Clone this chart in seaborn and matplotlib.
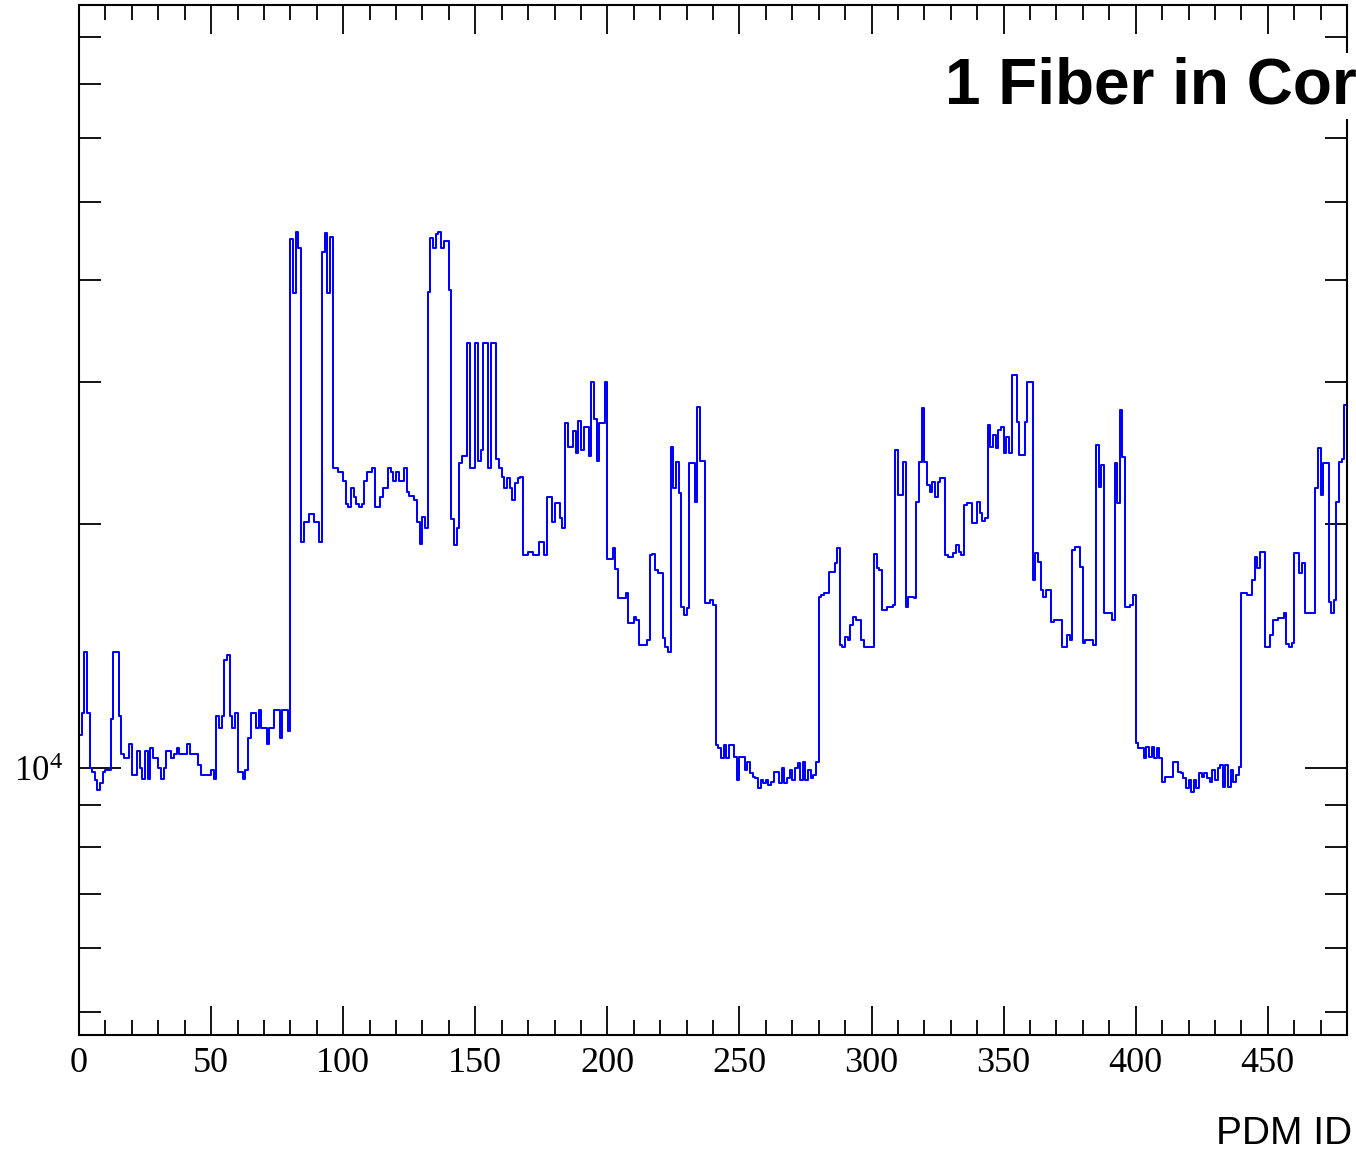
import numpy as np
import pandas as pd
import matplotlib
matplotlib.use("Agg")
import matplotlib.pyplot as plt
import seaborn as sns
from matplotlib.ticker import LogLocator, NullFormatter, MultipleLocator

# ---- data: counts per PDM ID bin (0..479) ----
counts_000_039 = [11000, 11700, 13900, 11700, 10000, 9900, 9670, 9400, 9580, 9890,
                  9940, 9940, 11500, 13900, 13900, 11600, 10400, 10300, 10300, 10700,
                  9800, 9800, 10500, 10000, 9700, 10500, 9700, 10600, 10300, 10300,
                  10000, 9700, 10000, 10500, 10500, 10300, 10400, 10600, 10400, 10400]
counts_040_079 = [10400, 10700, 10400, 10400, 10400, 10100, 9800, 9800, 9800, 9800,
                  9950, 9700, 11600, 11200, 11600, 13600, 13800, 11600, 11200, 11700,
                  9900, 9900, 9700, 9950, 10900, 11700, 11700, 11200, 11800, 11200,
                  11200, 10700, 11200, 11200, 11800, 11800, 10900, 11800, 11800, 11100]
counts_080_119 = [45000, 38600, 45900, 43800, 19000, 20100, 20100, 20600, 20600, 20100,
                  20100, 19000, 43400, 45800, 38600, 45300, 23500, 23500, 23200, 23200,
                  22600, 21200, 21000, 22200, 21600, 21200, 21000, 21200, 22600, 23200,
                  23200, 23500, 21000, 21000, 21600, 22200, 22200, 23500, 23200, 22600]
counts_120_159 = [23200, 22600, 22600, 23500, 21900, 21700, 21700, 21400, 20100, 18900,
                  20400, 19800, 38700, 45100, 43800, 45700, 45900, 43800, 44800, 44800,
                  38900, 20300, 18850, 19800, 23800, 24300, 24300, 33500, 23500, 23500,
                  33500, 23950, 24700, 33500, 33500, 23500, 33500, 33500, 24100, 23500]
counts_160_199 = [22900, 22200, 22800, 22200, 21400, 22500, 22800, 22900, 18300, 18300,
                  18500, 18500, 18300, 18300, 19000, 19000, 18300, 21600, 21600, 20100,
                  21250, 21250, 20350, 19800, 26700, 24900, 24900, 26100, 24500, 26800,
                  24700, 26400, 26400, 24300, 30000, 27000, 23950, 26700, 26700, 30000]
counts_200_239 = [18100, 18100, 18700, 17600, 16200, 16200, 16200, 16440, 15100, 15100,
                  15350, 15230, 14190, 14190, 14190, 14380, 18300, 18400, 17550, 17400,
                  17400, 14470, 14100, 13900, 24900, 22200, 23850, 21850, 15800, 15450,
                  15760, 23800, 23800, 21300, 27900, 23950, 23950, 15990, 15990, 16120]
counts_240_279 = [15900, 10670, 10590, 10290, 10670, 10290, 10670, 10670, 10320, 9670,
                  10320, 10320, 9940, 10170, 9860, 9750, 9720, 9450, 9670, 9580,
                  9670, 9530, 9610, 9890, 9890, 9580, 10000, 9580, 9720, 9940,
                  9670, 10000, 10140, 9670, 10170, 9670, 9940, 9720, 9800, 10170]
counts_280_319 = [16260, 16350, 16440, 16440, 17460, 17460, 17900, 18700, 14190, 14100,
                  14500, 14380, 15010, 15350, 15230, 15230, 14380, 14100, 14100, 14100,
                  14100, 18400, 17660, 17550, 15670, 15670, 15800, 15800, 15900, 24700,
                  21710, 21710, 23850, 15800, 16260, 16260, 16220, 21300, 23850, 27800]
counts_320_359 = [23850, 22350, 21900, 22560, 21620, 22560, 22780, 22780, 18330, 18240,
                  18240, 18420, 18840, 18470, 18330, 21120, 21240, 21240, 20090, 20090,
                  21300, 20640, 20200, 20350, 26520, 24900, 25770, 24840, 26140, 26400,
                  24480, 25630, 24480, 30560, 30560, 26750, 24350, 24350, 26750, 29960]
counts_360_399 = [29960, 17070, 18420, 17960, 16580, 16260, 16580, 16580, 15150, 15230,
                  15230, 15230, 14100, 14100, 14600, 14380, 18580, 18740, 18740, 17700,
                  14260, 14380, 14380, 14380, 14190, 25050, 22220, 23640, 15560, 15560,
                  15520, 15230, 23780, 21240, 27670, 24190, 15800, 15800, 15900, 16350]
counts_400_439 = [10730, 10580, 10580, 10290, 10610, 10320, 10610, 10290, 10580, 10290,
                  9610, 9750, 9750, 9750, 10170, 10170, 9890, 9860, 9720, 9450,
                  9670, 9340, 9670, 9450, 9860, 9750, 9860, 9720, 9610, 9940,
                  9670, 10000, 10090, 9470, 10090, 9470, 9940, 9610, 9800, 10030]
counts_440_479 = [16440, 16440, 16350, 16350, 17070, 18240, 17660, 18470, 18470, 14100,
                  14100, 14600, 15230, 15230, 15310, 15310, 15520, 14230, 14100, 14260,
                  18420, 18420, 17400, 17910, 15560, 15520, 15520, 15520, 22150, 24840,
                  21710, 23780, 23780, 16040, 15520, 16120, 21300, 23850, 24100, 28030]

title_text = "1 Fiber in Core"
x_label = "PDM ID"

counts = (counts_000_039 + counts_040_079 + counts_080_119 + counts_120_159 +
          counts_160_199 + counts_200_239 + counts_240_279 + counts_280_319 +
          counts_320_359 + counts_360_399 + counts_400_439 + counts_440_479)
n_bins = len(counts)
edges = np.arange(n_bins + 1)
df = pd.DataFrame({"pdm": edges, "count": counts + [counts[-1]]})

# ---- style ----
sns.set_style("ticks")
plt.rcParams["font.family"] = ["Liberation Serif", "DejaVu Serif"]
plt.rcParams["mathtext.fontset"] = "stix"
plt.rcParams["text.color"] = "black"
plt.rcParams["xtick.color"] = "black"
plt.rcParams["ytick.color"] = "black"
plt.rcParams["xtick.labelcolor"] = "black"
plt.rcParams["ytick.labelcolor"] = "black"

W, H = 1356, 1149
fig = plt.figure(figsize=(W / 100, H / 100), dpi=100)
ax = fig.add_axes([79 / W, 1 - 1035 / H, (1347 - 79) / W, (1035 - 5) / H])

sns.lineplot(data=df, x="pdm", y="count", drawstyle="steps-post", color="#0000ff",
             linewidth=1.45, estimator=None, ax=ax)

ax.set_yscale("log")
ax.set_xlim(0, 480)
ax.set_ylim(4683, 87500)

ax.xaxis.set_major_locator(MultipleLocator(50))
ax.xaxis.set_minor_locator(MultipleLocator(10))
ax.yaxis.set_major_locator(LogLocator(base=10, numticks=10))
ax.yaxis.set_minor_locator(LogLocator(base=10, subs=np.arange(2, 10), numticks=20))
ax.yaxis.set_minor_formatter(NullFormatter())

ax.tick_params(axis="x", which="major", direction="in", top=True, bottom=True,
               length=21, width=1.3, labelsize=26, pad=9)
ax.tick_params(axis="x", which="minor", direction="in", top=True, bottom=True,
               length=10.5, width=1.3)
ax.tick_params(axis="y", which="major", direction="in", left=True, right=True,
               length=30, width=1.3, labelsize=25, pad=12)
ax.tick_params(axis="y", which="minor", direction="in", left=True, right=True,
               length=16, width=1.3)

for s in ax.spines.values():
    s.set_linewidth(1.5)
    s.set_color("black")

ax.set_xlabel("")
ax.set_ylabel("")

fig.text(945 / W, 1 - 103 / H, title_text, fontsize=46, fontweight="bold",
         color="black", family=["Liberation Sans", "DejaVu Sans"],
         ha="left", va="baseline", zorder=10,
         bbox=dict(facecolor="white", edgecolor="none", pad=2))
fig.text(1352 / W, 1 - 1144 / H, x_label, fontsize=28, color="black",
         family=["Liberation Sans", "DejaVu Sans"], ha="right", va="baseline")

fig.savefig("out.png", dpi=100, facecolor="white")
